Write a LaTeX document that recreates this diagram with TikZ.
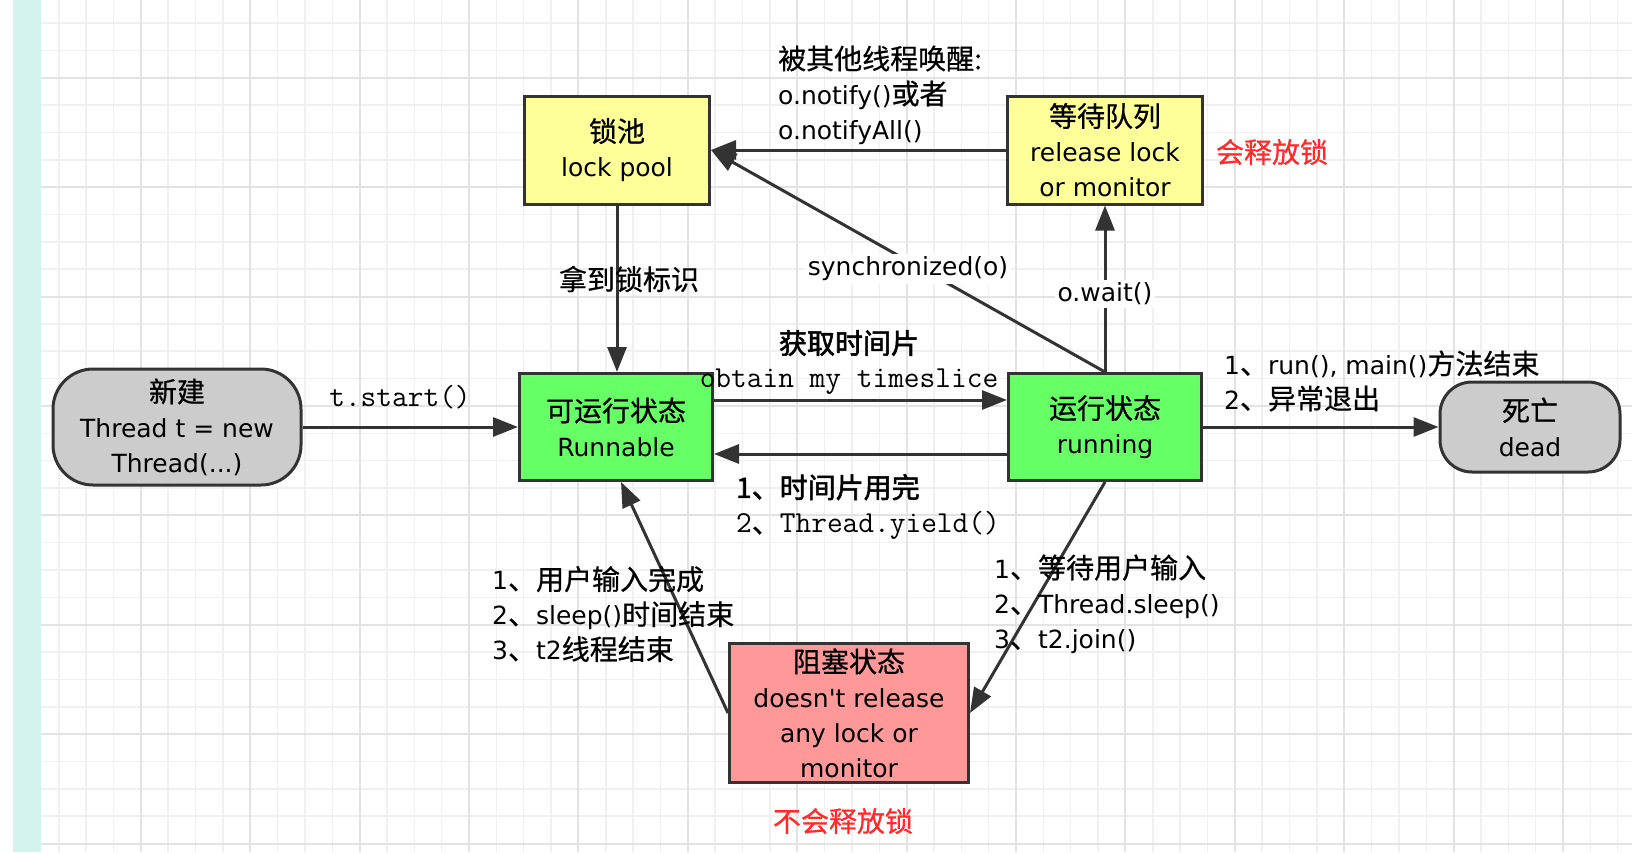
\documentclass[tikz,border=0pt]{standalone}
\usepackage{fontspec}
\setmainfont{DejaVu Sans}
\newfontfamily\zhfont[Scale=1.12,FakeBold=0.6]{Noto Sans CJK SC}
\newfontfamily\zhbfont[Scale=1.12,FakeBold=2]{Noto Sans CJK SC}
\newcommand\zh[1]{{\zhfont #1}}
\newcommand\zhb[1]{{\zhbfont #1}}
\newcommand\mono[1]{{\ttfamily\fontsize{30.5}{35}\selectfont #1}}
\usetikzlibrary{arrows.meta}
\definecolor{lineclr}{HTML}{333333}
\definecolor{poolclr}{HTML}{FFFF99}
\definecolor{runclr}{HTML}{66FF66}
\definecolor{endclr}{HTML}{CCCCCC}
\definecolor{blockclr}{HTML}{FF9999}
\definecolor{noteclr}{HTML}{FF2A2A}
\definecolor{tealclr}{HTML}{D4F3EE}
\definecolor{gridminor}{HTML}{F0F0F0}
\definecolor{gridmajor}{HTML}{E3E3E3}
\begin{document}
\begin{tikzpicture}[x=1pt,y=-1pt,font=\fontsize{25}{35}\selectfont,
  box/.style={draw=lineclr,line width=3pt,align=center,inner sep=1pt},
  pill/.style={box,fill=endclr,rounded corners=40pt},
  flow/.style={draw=lineclr,line width=3pt,-{Triangle[length=25pt,width=19pt]}},
  lbl/.style={align=left,inner sep=0pt}]
\useasboundingbox (0,0) rectangle (1632,852);
% background grid
\fill[white] (0,0) rectangle (1632,852);
\foreach \i in {2,...,59}
  \draw[gridminor,line width=1.5pt] ({4.05+27.35*\i},0) -- ++(0,852);
\foreach \j in {1,...,31}
  \draw[gridminor,line width=1.5pt] (41,{-4.35+27.35*\j}) -- ++(1591,0);
\foreach \i in {0,...,13}
  \draw[gridmajor,line width=2pt] ({140.8+109.4*\i},0) -- ++(0,852);
\foreach \j in {0,...,7}
  \draw[gridmajor,line width=2pt] (41,{77.7+109.4*\j}) -- ++(1591,0);
\fill[tealclr] (13.3,0) rectangle (41,852);

% states
\node[box,fill=poolclr,minimum width=185pt,minimum height=108pt] (pool) at (617,150) {\zh{锁池}\\lock pool};
\node[box,fill=poolclr,minimum width=195pt,minimum height=108pt] (waitq) at (1105,150) {\zh{等待队列}\\release lock\\or monitor};
\node[pill,minimum width=248pt,minimum height=116pt] (newt) at (177,427) {\zh{新建}\\Thread t = new\\Thread(...)};
\node[box,fill=runclr,minimum width=193pt,minimum height=107pt] (runnable) at (616,427) {\zh{可运行状态}\\Runnable};
\node[box,fill=runclr,minimum width=193pt,minimum height=107pt] (running) at (1105,427) {\zh{运行状态}\\running};
\node[pill,rounded corners=32pt,minimum width=180pt,minimum height=90pt] (dead) at (1530,427) {\zh{死亡}\\dead};
\node[box,fill=blockclr,minimum width=239pt,minimum height=139pt] (blocked) at (849,713) {\zh{阻塞状态}\\doesn\textquotesingle t release\\any lock or\\monitor};

% transitions
\draw[flow] (pool.south) -- (pool.south |- runnable.north);
\draw[flow] (waitq.west) -- (pool.east);
\draw[flow] (running.north) -- node[pos=0.5,yshift=-8pt,fill=white,inner sep=3pt] (synclbl) {synchronized(o)} (pool.east);
\draw[flow] (running.north) -- node[pos=0.47,fill=white,inner sep=3pt] (waitlbl) {o.wait()} (waitq.south);
\draw[flow] ([yshift=27pt]runnable.east) -- ([yshift=27pt]running.west);
\draw[flow] ([yshift=-27pt]running.west) -- ([yshift=-27pt]runnable.east);
\draw[flow] (newt.east) -- (runnable.west);
\draw[flow] (running.east) -- (dead.west);
\draw[flow] (running.south) -- (blocked.east);
\draw[flow] (blocked.west) -- ([xshift=5pt]runnable.south);

% labels
\node[lbl] (lockflag) at (629,279) {\zh{拿到锁标识}};
\node[lbl,anchor=west] (notifylbl) at (778,95) {\zh{被其他线程唤醒:}\\o.notify()\zh{或者}\\o.notifyAll()};
\node[lbl] (slicelbl) at (849,343) {\zhb{获取时间片}};
\node[lbl] (obtainlbl) at (849,382) {\mono{obtain my timeslice}};
\node[lbl,anchor=west] (yieldlbl) at (736,507) {\zhb{1、时间片用完}\\\mono{2}\zh{、}\mono{Thread.yield()}};
\node[lbl] (startlbl) at (400,397) {\mono{t.start()}};
\node[lbl,anchor=west] (endlbl) at (1224,381) {1\zh{、}run(), main()\zh{方法结束}\\2\zh{、异常退出}};
\node[lbl,anchor=west] (sleeplbl) at (994,604) {1\zh{、等待用户输入}\\2\zh{、}Thread.sleep()\\3\zh{、}t2.join()};
\node[lbl,anchor=west] (wakelbl) at (492,614) {1\zh{、用户输入完成}\\2\zh{、}sleep()\zh{时间结束}\\3\zh{、}t2\zh{线程结束}};
\node[text=noteclr] (relnote) at (1272,152) {\zh{会释放锁}};
\node[text=noteclr] (norelnote) at (843,821) {\zh{不会释放锁}};
\end{tikzpicture}
\end{document}
